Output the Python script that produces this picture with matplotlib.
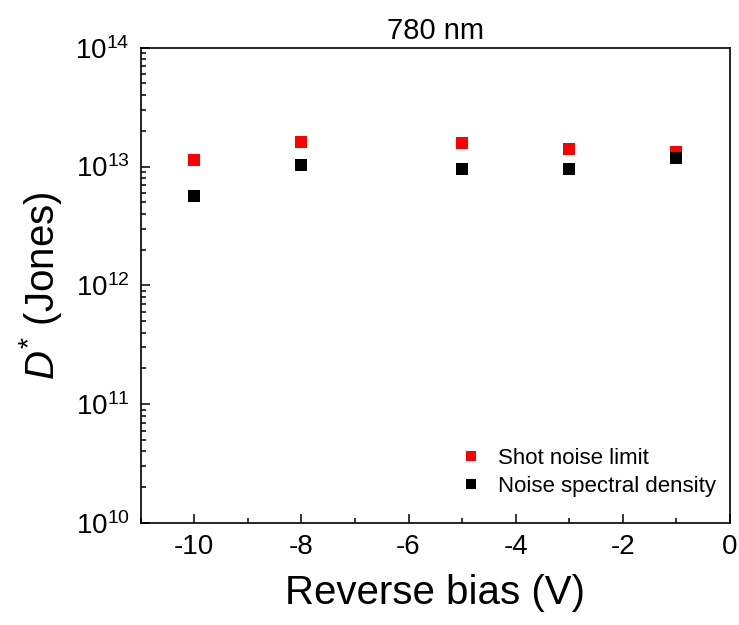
import matplotlib
matplotlib.use("Agg")
import matplotlib.pyplot as plt
from matplotlib.ticker import LogLocator, MultipleLocator, FixedLocator, NullFormatter

plt.rcParams['font.family'] = ['Liberation Sans', 'DejaVu Sans']
plt.rcParams['mathtext.fontset'] = 'custom'
plt.rcParams['mathtext.rm'] = 'Liberation Sans'
plt.rcParams['mathtext.it'] = 'Liberation Sans:italic'
plt.rcParams['mathtext.bf'] = 'Liberation Sans:bold'
plt.rcParams['axes.unicode_minus'] = False

bias = [-10, -8, -5, -3, -1]
shot_noise = [1.14e13, 1.61e13, 1.58e13, 1.41e13, 1.33e13]
nsd = [5.66e12, 1.03e13, 9.55e12, 9.55e12, 1.18e13]
y_ticks = [1e10, 1e11, 1e12, 1e13, 1e14]
y_labels = ['10$^{10}$', '10$^{11}$', '10$^{12}$', '10$^{13}$', '10$^{14}$']

fig = plt.figure(figsize=(7.39, 6.25), dpi=100)
ax = fig.add_axes([0.1904, 0.1632, 0.7974, 0.7605])

ax.plot(bias, shot_noise, 's', color='#ff0000', markersize=8, markeredgewidth=0,
        label='Shot noise limit')
ax.plot(bias, nsd, 's', color='black', markersize=8, markeredgewidth=0,
        label='Noise spectral density')

ax.set_yscale('log')
ax.set_xlim(-11, 0)
ax.set_ylim(1e10, 1e14)
ax.xaxis.set_major_locator(MultipleLocator(2))
ax.xaxis.set_minor_locator(MultipleLocator(1))
ax.yaxis.set_major_locator(FixedLocator(y_ticks))
ax.set_yticklabels(y_labels)
ax.yaxis.set_minor_locator(LogLocator(base=10, subs=range(2, 10), numticks=20))
ax.yaxis.set_minor_formatter(NullFormatter())

ax.tick_params(which='both', direction='in', top=False, right=False, labelsize=20, width=1.1)
ax.tick_params(which='major', length=6.5, pad=8)
ax.tick_params(which='minor', length=3.5)
for s in ax.spines.values():
    s.set_linewidth(1.2)

ax.set_xlabel('Reverse bias (V)', fontsize=29, labelpad=10)
ax.set_ylabel('$D^{*}$ (Jones)', fontsize=29, labelpad=8)
ax.set_title('780 nm', fontsize=21, pad=6)

ax.legend(loc='lower right', bbox_to_anchor=(0.992, 0.037), borderaxespad=0,
          frameon=False, fontsize=16, handletextpad=0.55,
          markerscale=0.9, labelspacing=0.3, handlelength=1.4)

fig.savefig('out.png', dpi=100)
